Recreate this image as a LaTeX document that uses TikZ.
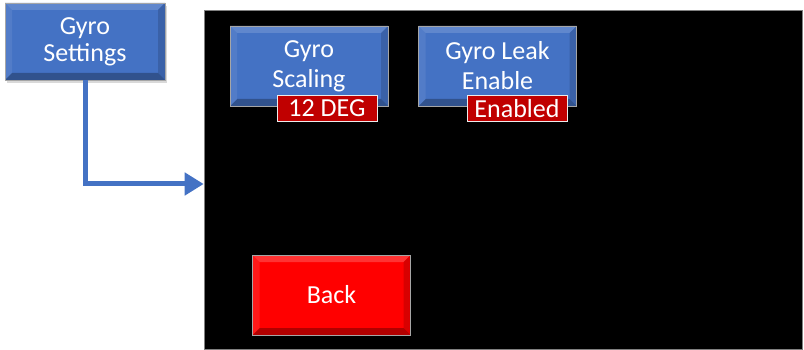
\documentclass[tikz,border=0pt]{standalone}
\usepackage{fontspec}
\setmainfont{Carlito}
\usetikzlibrary{arrows.meta,shadows}

\definecolor{btnblue}{HTML}{4472C4}
\definecolor{btnred}{HTML}{FF0000}
\definecolor{tagred}{HTML}{C00000}

\tikzset{
  bevel/.style 2 args={path picture={
      \coordinate (nw) at (path picture bounding box.north west);
      \coordinate (ne) at (path picture bounding box.north east);
      \coordinate (se) at (path picture bounding box.south east);
      \coordinate (sw) at (path picture bounding box.south west);
      \fill[#1] (nw) -- (ne) -- ([shift={(-7pt,-7pt)}]ne) -- ([shift={(7pt,-7pt)}]nw) -- cycle;
      \fill[#2] (sw) -- (se) -- ([shift={(-7pt,7pt)}]se) -- ([shift={(7pt,7pt)}]sw) -- cycle;
      \fill[#1,opacity=0.5] (nw) -- (sw) -- ([shift={(7pt,7pt)}]sw) -- ([shift={(7pt,-7pt)}]nw) -- cycle;
      \fill[#2,opacity=0.5] (ne) -- (se) -- ([shift={(-7pt,7pt)}]se) -- ([shift={(-7pt,-7pt)}]ne) -- cycle;
  }},
  bluebtn/.style={rectangle, fill=btnblue, draw=gray!70, line width=0.6pt,
    minimum width=158pt, minimum height=80pt, align=center, text=white,
    font=\fontsize{26}{30}\selectfont, bevel={btnblue!85!white}{btnblue!72!black}},
  redbtn/.style={bluebtn, fill=btnred, bevel={btnred!80!white}{btnred!70!black}},
  valtag/.style={rectangle, fill=tagred, draw=white!85!gray, line width=0.6pt,
    minimum width=100pt, minimum height=26pt, inner sep=0pt, text=white,
    font=\fontsize{26}{28}\selectfont},
  screen/.style={rectangle, fill=black, draw=gray, line width=0.6pt,
    minimum width=598pt, minimum height=339pt, inner sep=0pt},
  link/.style={draw=btnblue, line width=5pt,
    -{Triangle[length=19pt,width=22pt]}}
}

\begin{document}
\begin{tikzpicture}[x=1pt,y=-1pt]
  \useasboundingbox (0,0) rectangle (804,350);

  % Screen area
  \node[screen] (screen) at (503,179.5) {};

  % Menu button on the left
  \node[bluebtn, minimum width=160pt, minimum height=77pt,
    drop shadow={shadow xshift=2pt, shadow yshift=-3pt, opacity=0.3}]
    (settings) at (85,41.5) {\raisebox{-3pt}{\shortstack{Gyro\\[2pt]Settings}}};

  % Buttons on the screen
  \node[bluebtn] (scaling) at (309,66) {Gyro\\Scaling};
  \node[bluebtn] (leak) at (497.5,66) {Gyro Leak\\Enable};
  \node[redbtn] (back) at (331.5,295) {Back};

  % Value tags
  \node[valtag] (scaleval) at (327,108.5) {12 DEG};
  \node[valtag] (leakval) at (517,108.5) {Enabled};

  % Navigation arrow
  \coordinate (entry) at ([yshift=-4.5pt]screen.west);
  \draw[link] (settings.south) |- (entry);

\end{tikzpicture}
\end{document}
